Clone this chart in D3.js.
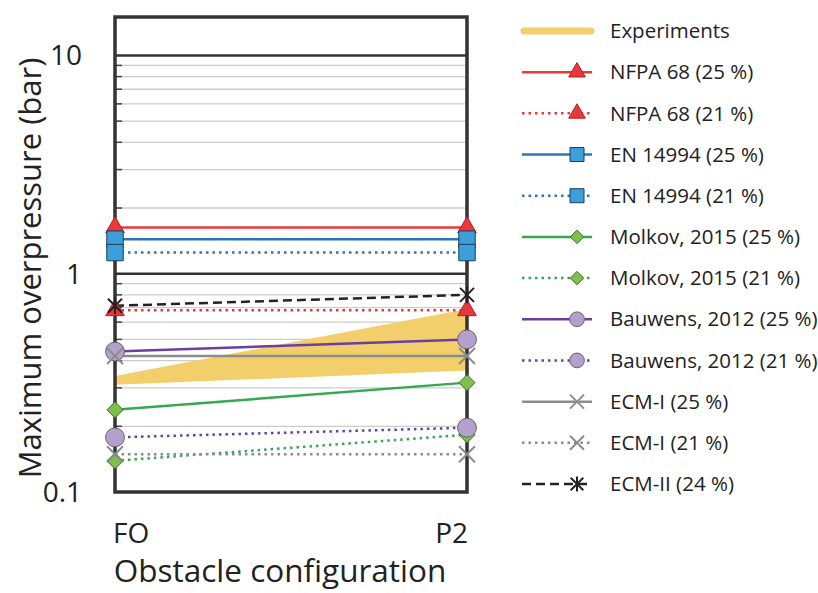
<!DOCTYPE html>
<html>
<head>
<meta charset="utf-8">
<script src="https://cdn.jsdelivr.net/npm/d3@7"></script>
<style>
  body { margin: 0; background: #fff; }
  text { font-family: "Open Sans", "Lato", sans-serif; fill: #222; }
</style>
</head>
<body>
<div id="viz"></div>
<script>
// categories and values (bar, maximum overpressure)
var configs = ["FO", "P2"];
var expMin = [0.31, 0.36];
var expMax = [0.34, 0.69];
var nfpa25 = [1.63, 1.63];
var nfpa21 = [0.68, 0.68];
var en25 = [1.44, 1.44];
var en21 = [1.25, 1.25];
var molkov25 = [0.238, 0.317];
var molkov21 = [0.139, 0.183];
var bauwens25 = [0.44, 0.50];
var bauwens21 = [0.178, 0.197];
var ecm1_25 = [0.42, 0.42];
var ecm1_21 = [0.149, 0.149];
var ecm2_24 = [0.713, 0.80];
var yTicks = [0.1, 1, 10];
var legendLabels = ["Experiments", "NFPA 68 (25 %)", "NFPA 68 (21 %)", "EN 14994 (25 %)", "EN 14994 (21 %)",
  "Molkov, 2015 (25 %)", "Molkov, 2015 (21 %)", "Bauwens, 2012 (25 %)", "Bauwens, 2012 (21 %)",
  "ECM-I (25 %)", "ECM-I (21 %)", "ECM-II (24 %)"];

var width = 818, height = 593,
    plotLeft = 115, plotRight = 467, plotTop = 17, plotBottom = 492;

var svg = d3.select("#viz").append("svg")
  .attr("width", width)
  .attr("height", height);

var x = d3.scalePoint().domain(configs).range([plotLeft, plotRight]);
var y = d3.scaleLog().domain([0.1, 15]).range([plotBottom, plotTop]);

// custom marker shapes
var diamond = { draw: function(ctx, size) {
  var r = Math.sqrt(size) / 2;
  ctx.moveTo(0, -r); ctx.lineTo(r, 0); ctx.lineTo(0, r); ctx.lineTo(-r, 0); ctx.closePath();
}};
var cross = { draw: function(ctx, size) {
  var r = Math.sqrt(size) / 2;
  ctx.moveTo(-r, -r); ctx.lineTo(r, r); ctx.moveTo(-r, r); ctx.lineTo(r, -r);
}};
var star = { draw: function(ctx, size) {
  var r = Math.sqrt(size) / 2;
  ctx.moveTo(-r, -r); ctx.lineTo(r, r); ctx.moveTo(-r, r); ctx.lineTo(r, -r);
  ctx.moveTo(0, -r * 1.2); ctx.lineTo(0, r * 1.2);
}};

var dotted = "2.5 4", dashed = "9 5";
var series = [
  { values: nfpa25, color: "#e8383c", dash: null, shape: d3.symbolTriangle, size: 150, legSize: 120, fill: "#e8383c", stroke: "#b02020" },
  { values: nfpa21, color: "#e8383c", dash: dotted, shape: d3.symbolTriangle, size: 150, legSize: 120, fill: "#e8383c", stroke: "#b02020" },
  { values: en25, color: "#2e75b6", dash: null, shape: d3.symbolSquare, size: 270, legSize: 196, fill: "#3c9fd9", stroke: "#1d3c5a" },
  { values: en21, color: "#2e75b6", dash: dotted, shape: d3.symbolSquare, size: 270, legSize: 196, fill: "#3c9fd9", stroke: "#1d3c5a" },
  { values: molkov25, color: "#35a853", dash: null, shape: diamond, size: 256, legSize: 180, fill: "#7dc04c", stroke: "#3d6a2a" },
  { values: molkov21, color: "#35a853", dash: dotted, shape: diamond, size: 256, legSize: 180, fill: "#7dc04c", stroke: "#3d6a2a" },
  { values: bauwens25, color: "#6b3fa0", dash: null, shape: d3.symbolCircle, size: 280, legSize: 170, fill: "#b4a0cf", stroke: "#666" },
  { values: bauwens21, color: "#6b3fa0", dash: dotted, shape: d3.symbolCircle, size: 280, legSize: 170, fill: "#b4a0cf", stroke: "#666" },
  { values: ecm1_25, color: "#8c8c8c", dash: null, shape: cross, size: 256, legSize: 196, fill: "none", stroke: "#8c8c8c" },
  { values: ecm1_21, color: "#8c8c8c", dash: dotted, shape: cross, size: 256, legSize: 196, fill: "none", stroke: "#8c8c8c" },
  { values: ecm2_24, color: "#222", dash: dashed, shape: star, size: 196, legSize: 160, fill: "none", stroke: "#222" }
];

// minor gridlines
var minors = [];
[0.1, 1].forEach(function(b) { d3.range(2, 10).forEach(function(k) { minors.push(b * k); }); });
svg.append("g").selectAll("line").data(minors).enter().append("line")
  .attr("x1", plotLeft).attr("x2", plotRight)
  .attr("y1", function(d) { return y(d); }).attr("y2", function(d) { return y(d); })
  .attr("stroke", "#cccccc").attr("stroke-width", 1.3);
svg.append("g").selectAll("line").data(minors).enter().append("line")
  .attr("x1", plotLeft).attr("x2", plotLeft + 7)
  .attr("y1", function(d) { return y(d); }).attr("y2", function(d) { return y(d); })
  .attr("stroke", "#444").attr("stroke-width", 1.5);
svg.append("g").selectAll("line").data([1, 10]).enter().append("line")
  .attr("x1", plotLeft).attr("x2", plotRight)
  .attr("y1", function(d) { return y(d); }).attr("y2", function(d) { return y(d); })
  .attr("stroke", "#333").attr("stroke-width", 2.5);

// experiments band
svg.append("path").datum([0, 1])
  .attr("d", d3.area()
    .x(function(i) { return x(configs[i]); })
    .y0(function(i) { return y(expMin[i]); })
    .y1(function(i) { return y(expMax[i]); }))
  .attr("fill", "#f2cf6b");

// frame
svg.append("rect")
  .attr("x", plotLeft).attr("y", plotTop)
  .attr("width", plotRight - plotLeft).attr("height", plotBottom - plotTop)
  .attr("fill", "none").attr("stroke", "#333").attr("stroke-width", 3.5);

// lines
var line = d3.line()
  .x(function(d, i) { return x(configs[i]); })
  .y(function(d) { return y(d); });
series.forEach(function(s) {
  svg.append("path").datum(s.values)
    .attr("d", line)
    .attr("fill", "none")
    .attr("stroke", s.color)
    .attr("stroke-width", 2.5)
    .attr("stroke-dasharray", s.dash);
});
// markers
series.forEach(function(s) {
  svg.append("g").selectAll("path").data(s.values).enter().append("path")
    .attr("transform", function(d, i) { return "translate(" + x(configs[i]) + "," + y(d) + ")"; })
    .attr("d", d3.symbol().type(s.shape).size(s.size))
    .attr("fill", s.fill)
    .attr("stroke", s.stroke)
    .attr("stroke-width", s.fill === "none" ? 2 : 1);
});

// axes labels
svg.append("g").selectAll("text").data(yTicks).enter().append("text")
  .attr("x", 82).attr("y", function(d) { return y(d); })
  .attr("dy", "0.35em")
  .attr("text-anchor", "end")
  .attr("font-size", 28)
  .text(function(d) { return d3.format("~g")(d); });

svg.append("g").selectAll("text").data(configs).enter().append("text")
  .attr("x", function(d, i) { return i === 0 ? plotLeft - 2 : plotRight + 1; })
  .attr("y", 543)
  .attr("text-anchor", function(d, i) { return i === 0 ? "start" : "end"; })
  .attr("font-size", 28)
  .text(function(d) { return d; });

svg.append("text")
  .attr("x", 280).attr("y", 582)
  .attr("text-anchor", "middle")
  .attr("font-size", 31.5)
  .text("Obstacle configuration");

svg.append("text")
  .attr("transform", "translate(41,268) rotate(-90)")
  .attr("text-anchor", "middle")
  .attr("font-size", 31)
  .text("Maximum overpressure (bar)");

// legend
var legY = d3.scalePoint().domain(legendLabels).range([31, 484]);
var leg = svg.append("g");
leg.append("line")
  .attr("x1", 524).attr("x2", 591)
  .attr("y1", legY(legendLabels[0])).attr("y2", legY(legendLabels[0]))
  .attr("stroke", "#f2cf6b").attr("stroke-width", 7).attr("stroke-linecap", "round");
series.forEach(function(s, i) {
  var ly = legY(legendLabels[i + 1]);
  leg.append("line")
    .attr("x1", 522).attr("x2", 592).attr("y1", ly).attr("y2", ly)
    .attr("stroke", s.color).attr("stroke-width", 2.5)
    .attr("stroke-dasharray", s.dash);
  leg.append("path")
    .attr("transform", "translate(577," + ly + ")")
    .attr("d", d3.symbol().type(s.shape).size(s.legSize))
    .attr("fill", s.fill)
    .attr("stroke", s.stroke)
    .attr("stroke-width", s.fill === "none" ? 2 : 1);
});
leg.selectAll("text").data(legendLabels).enter().append("text")
  .attr("x", 610).attr("y", function(d) { return legY(d); })
  .attr("dy", "0.35em")
  .attr("font-size", 20.5)
  .text(function(d) { return d; });
</script>
</body>
</html>
